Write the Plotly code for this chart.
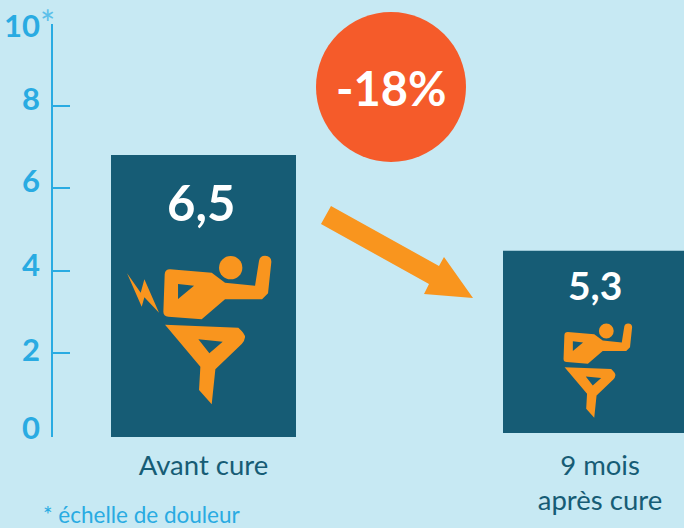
import plotly.graph_objects as go

# Data
categories = ["Avant cure", "9 mois<br>après cure"]
value_labels = ["6,5", "5,3"]
bar_centers = [203.5, 593.5]
bar_widths = [185, 181]
bar_tops = [6.81, 4.48]
bar_bases = [-0.05, 0.05]
category_label_x = [203.5, 600]
axis_ticks = [0, 2, 4, 6, 8, 10]
axis_label_shift = [8, 4, 7, 8.5, 8, -1]
reduction = "-18%"
footnote = "* échelle de douleur"

BG = "#C7E9F3"
BAR = "#165C75"
BLUE = "#29ABE2"
ORANGE = "#F9951E"
RED = "#F55B2A"
FONT = "Lato"

L, R, T, B = 53, 0, 24, 91
W, H = 684, 528
PW, PH = W - L - R, H - T - B


def px(x):
    return (x - L) / PW


def py(y):
    return (H - B - y) / PH


def path(segments):
    out = []
    for seg in segments:
        cmd, pts = seg[0], seg[1:]
        out.append(cmd + " ".join(f"{px(x):.5f},{py(y):.5f}" for x, y in pts))
    return " ".join(out)


def icon_shapes(ox, oy, s, bolt):
    """Icon outlines from the large figure, in image pixels relative to its head."""
    def t(zx, zy):
        return (ox + (zx - 362) / 3 * s, oy + (zy - 83) / 3 * s)

    def poly(*items):
        segs = []
        for i, it in enumerate(items):
            if len(it) == 2:
                segs.append(("M" if i == 0 else "L", t(*it)))
            else:
                segs.append(("Q", t(it[0], it[1]), t(it[2], it[3])))
        segs.append(("Z",))
        return path(segs)

    body = poly((180, 88), (305, 98), (345, 128), (435, 137), (447, 62),
                (450, 47, 465, 47), (484, 48, 484, 65), (474, 160), (456, 178),
                (345, 178), (275, 238), (175, 230), (160, 228, 160, 215),
                (164, 103), (165, 88, 180, 88))
    body += " " + poly((204, 132), (252, 137), (204, 177))
    leg = poly((165, 254), (385, 263), (406, 282, 405, 292), (403, 306, 395, 312),
               (316, 388), (305, 493), (267, 450), (271, 380))
    leg += " " + poly((265, 298), (338, 305), (298, 340))
    shapes = [body, leg]
    if bolt:
        shapes.append(poly((51, 100), (92, 158), (103, 118), (147, 218),
                           (103, 172), (95, 200)))
    out = [dict(type="path", path=p, xref="paper", yref="paper",
                fillcolor=ORANGE, line_width=0, layer="above") for p in shapes]
    cx, cy = t(362, 83)
    r = 35 / 3 * s
    out.append(dict(type="circle", xref="paper", yref="paper",
                    x0=px(cx - r), x1=px(cx + r), y0=py(cy + r), y1=py(cy - r),
                    fillcolor=ORANGE, line_width=0, layer="above"))
    return out


shapes = []
shapes.append(dict(type="circle", xref="paper", yref="paper",
                   x0=px(316), x1=px(466), y0=py(162), y1=py(12),
                   fillcolor=RED, line_width=0))
arrow = [(331, 206), (439, 266), (444, 257), (473, 298), (424, 294), (429, 284), (321, 224)]
shapes.append(dict(type="path", xref="paper", yref="paper", fillcolor=ORANGE, line_width=0,
                   path=path([("M", arrow[0])] + [("L", p) for p in arrow[1:]] + [("Z",)])))
shapes += icon_shapes(230.7, 267.7, 1.0, True)
shapes += icon_shapes(606.3, 331.0, 0.635, False)

fig = go.Figure(go.Bar(
    x=bar_centers,
    y=[t - b for t, b in zip(bar_tops, bar_bases)],
    base=bar_bases,
    width=bar_widths,
    marker=dict(color=BAR, line_width=0),
    cliponaxis=False,
    hoverinfo="skip",
))

annotations = []
for v, shift in zip(axis_ticks, axis_label_shift):
    annotations.append(dict(x=px(42), xref="paper", y=v, yref="y", text=f"<b>{v}</b>",
                            showarrow=False, xanchor="right", yanchor="middle", yshift=shift,
                            font=dict(family=FONT, size=31, color=BLUE, weight=900)))
common = dict(showarrow=False, xanchor="center", yanchor="middle", yref="paper")
annotations += [
    dict(x=px(47), xref="paper", y=py(23), text="*",
         font=dict(family=FONT, size=36, color="#5CC0EA"), **common),
    dict(x=px(391), xref="paper", y=py(88), text=f"<b>{reduction}</b>",
         font=dict(family=FONT, size=47, color="white"), **common),
    dict(x=bar_centers[0] - 2.5, xref="x", y=py(202), text=f"<b>{value_labels[0]}</b>",
         font=dict(family=FONT, size=49, color="white"), **common),
    dict(x=bar_centers[1] + 1.5, xref="x", y=py(285), text=f"<b>{value_labels[1]}</b>",
         font=dict(family=FONT, size=39, color="white"), **common),
    dict(x=px(41), xref="paper", y=py(514), yref="paper", text=footnote, showarrow=False,
         xanchor="left", yanchor="middle", font=dict(family=FONT, size=22.5, color=BLUE)),
]

fig.update_layout(
    width=W, height=H, autosize=False,
    margin=dict(l=L, r=R, t=T, b=B),
    paper_bgcolor=BG, plot_bgcolor=BG,
    showlegend=False, shapes=shapes, annotations=annotations,
    xaxis=dict(range=[L, W], showgrid=False, zeroline=False, showline=False,
               tickmode="array", tickvals=category_label_x, ticktext=categories,
               ticks="", ticklabelstandoff=9,
               tickfont=dict(family=FONT, size=27.5, color=BAR)),
    yaxis=dict(range=[-0.05, 10], showgrid=False, zeroline=False, showline=True,
               linecolor=BLUE, linewidth=2, ticks="inside", ticklen=17, tickwidth=2,
               tickcolor=BLUE, tickmode="array", tickvals=axis_ticks[1:],
               showticklabels=False),
)
fig.write_html("out.html", config=dict(displayModeBar=False),
               post_script="document.body.style.margin='0';document.body.style.background='#C7E9F3';")
